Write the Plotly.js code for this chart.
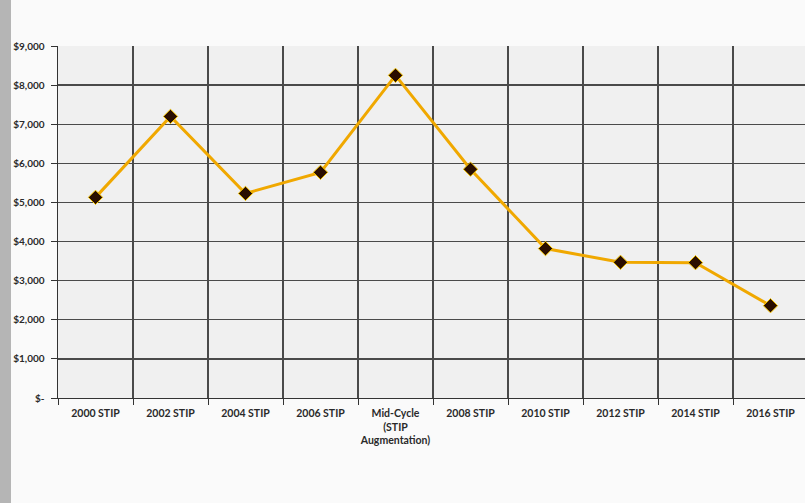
<!DOCTYPE html>
<html>
<head>
<meta charset="utf-8">
<script src="https://cdn.plot.ly/plotly-3.0.1.min.js"></script>
<style>
html,body{margin:0;padding:0;overflow:hidden;background:#fafafa;}
#strip{position:absolute;left:0;top:0;width:11px;height:503px;background:#b5b5b5;z-index:2;}
#chart{position:absolute;left:0;top:0;}
</style>
</head>
<body>
<div id="strip"></div>
<div id="chart"></div>
<script>
const categories = ["2000 STIP","2002 STIP","2004 STIP","2006 STIP","Mid-Cycle<br>(STIP<br>Augmentation)","2008 STIP","2010 STIP","2012 STIP","2014 STIP","2016 STIP"];
const values = [5130, 7200, 5230, 5770, 8250, 5850, 3820, 3470, 3460, 2360];
const yTickVals = [0,1000,2000,3000,4000,5000,6000,7000,8000,9000];
const yTickText = ["$-","$1,000","$2,000","$3,000","$4,000","$5,000","$6,000","$7,000","$8,000","$9,000"];

const fam = "Lato, Open Sans, sans-serif";
const tf = {family: fam, size: 10, color: "#2a2a2a", weight: "bold"};
const xf = {family: fam, size: 10.5, color: "#2a2a2a", weight: "bold"};

const trace = {
  type: "scatter",
  mode: "lines+markers",
  x: categories,
  y: values,
  line: {color: "#f0a800", width: 3},
  marker: {symbol: "diamond", size: 11, color: "#2a0e00", line: {color: "#f5c400", width: 1}},
  hoverinfo: "none"
};

const layout = {
  width: 812, height: 503,
  margin: {l: 58, r: 4, t: 46, b: 105},
  paper_bgcolor: "#fafafa",
  plot_bgcolor: "#f0f0f0",
  showlegend: false,
  font: tf,
  xaxis: {
    type: "category",
    range: [-0.5, 9.5],
    tickson: "boundaries",
    tickangle: 0,
    ticks: "outside", ticklen: 6, tickcolor: "#333", tickwidth: 1,
    ticklabelstandoff: 5,
    showgrid: true, gridcolor: "#4a4a4a", gridwidth: 1.4,
    showline: true, linecolor: "#333", linewidth: 1.4,
    tickfont: xf,
    fixedrange: true
  },
  yaxis: {
    range: [0, 9000],
    tickvals: yTickVals, ticktext: yTickText,
    ticks: "outside", ticklen: 6, tickcolor: "#333", tickwidth: 1,
    ticklabelstandoff: 4,
    showgrid: true, gridcolor: "#4a4a4a", gridwidth: 1.4,
    showline: true, linecolor: "#333", linewidth: 1.4,
    zeroline: false,
    tickfont: tf,
    fixedrange: true
  }
};

Plotly.newPlot("chart", [trace], layout, {displayModeBar: false, staticPlot: true});
</script>
</body>
</html>
